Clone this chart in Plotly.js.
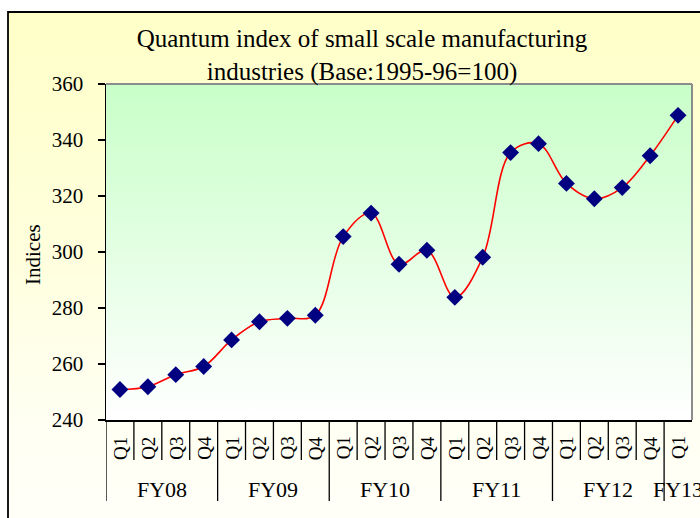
<!DOCTYPE html>
<html><head><meta charset="utf-8">
<script src="https://cdn.plot.ly/plotly-3.0.1.min.js"></script>
<style>html,body{margin:0;padding:0;background:#fff}#chart{width:700px;height:518px}</style>
</head><body><div id="chart"></div>
<script>
// ---- data ----
const quarters = ['Q1','Q2','Q3','Q4','Q1','Q2','Q3','Q4','Q1','Q2','Q3','Q4','Q1','Q2','Q3','Q4','Q1','Q2','Q3','Q4','Q1'];
const fiscalYears = ['FY08','FY09','FY10','FY11','FY12','FY13'];
const quartersPerYear = [4,4,4,4,4,1];
const indices = [250.9,251.9,256.2,259.1,268.6,275.1,276.3,277.4,305.5,313.9,295.6,300.6,283.8,298.1,335.5,338.7,324.5,319.0,323.0,334.4,348.8];
const chartTitle = 'Quantum index of small scale manufacturing<br>industries (Base:1995-96=100)';
const yTitle = 'Indices';
const yTicks = [240,260,280,300,320,340,360];

// ---- layout helpers ----
const W = 700, H = 518;
const px = v => v / W;          // pixel x -> paper
const py = v => 1 - v / H;      // pixel y -> paper
const FONT = 'Liberation Serif, Times New Roman, serif';
const xIdx = indices.map((_, i) => i);

const traces = [
  // outer chart-area gradient (yellow to near white)
  {x:[px(8),1.2,1.2,px(8),px(8)], y:[0,0,py(12),py(12),0], xaxis:'x', yaxis:'y',
   type:'scatter', mode:'lines', fill:'toself', line:{width:0,color:'rgba(0,0,0,0)'},
   fillgradient:{type:'vertical', colorscale:[[0,'#FFFFF8'],[0.2,'#FFFFF2'],[0.55,'#FFFFDC'],[1,'#FFFFC8']]},
   hoverinfo:'skip', showlegend:false},
  // plot-area gradient (green to white)
  {x:[-0.5,20.5,20.5,-0.5,-0.5], y:[240,240,360,360,240], xaxis:'x2', yaxis:'y2',
   type:'scatter', mode:'lines', fill:'toself', line:{width:0,color:'rgba(0,0,0,0)'},
   fillgradient:{type:'vertical', colorscale:[[0,'#FFFFFF'],[1,'#C8FFC8']]},
   hoverinfo:'skip', showlegend:false},
  // data
  {x:xIdx, y:indices, xaxis:'x2', yaxis:'y2', type:'scatter', mode:'lines+markers',
   line:{color:'#FF0000', width:1.6, shape:'spline', smoothing:1},
   marker:{symbol:'diamond', size:13, color:'#000080'}, showlegend:false}
];

const shapes = [
  // outer frame
  {type:'rect', xref:'paper', yref:'paper', x0:px(8), x1:1.2, y0:-0.2, y1:py(12),
   line:{color:'#000', width:1.8}, fillcolor:'rgba(0,0,0,0)', layer:'above'},
  // plot area grey border (top and right)
  {type:'line', xref:'x2 domain', yref:'y2 domain', x0:0, x1:1, y0:1, y1:1, line:{color:'#8C8C8C', width:2}, layer:'above'},
  {type:'line', xref:'x2 domain', yref:'y2 domain', x0:1, x1:1, y0:0, y1:1, line:{color:'#8C8C8C', width:2}, layer:'above'}
];
// category separators
const yearStarts = [];
let acc = 0;
quartersPerYear.forEach(n => { yearStarts.push(acc); acc += n; });
for (let k = 0; k < quarters.length; k++) {
  const isYear = yearStarts.includes(k);
  shapes.push({type:'line', xref:'x2', yref:'paper', x0:k-0.5, x1:k-0.5,
    y0:py(420), y1:py(isYear ? 501 : 460), line:{color:'#000', width:1.3}, layer:'above'});
}

const annotations = [];
quarters.forEach((q, i) => annotations.push({
  xref:'x2', yref:'paper', x:i, y:py(448), text:q, textangle:-90, showarrow:false,
  font:{family:FONT, size:19, color:'#000'}, xanchor:'center', yanchor:'middle'}));
fiscalYears.forEach((fy, j) => annotations.push({
  xref:'x2', yref:'paper', x:yearStarts[j] + (quartersPerYear[j]-1)/2, y:py(489), text:fy,
  showarrow:false, font:{family:FONT, size:22, color:'#000'}, xanchor:'center', yanchor:'middle'}));
annotations.push({xref:'paper', yref:'paper', x:px(33), y:py(255), text:yTitle, textangle:-90,
  showarrow:false, font:{family:FONT, size:21, color:'#000'}, xanchor:'center', yanchor:'middle'});

const layout = {
  width:W, height:H, margin:{l:0,r:0,t:0,b:0},
  paper_bgcolor:'#FFFFFF', plot_bgcolor:'rgba(0,0,0,0)',
  title:{text:chartTitle, x:px(362), xanchor:'center', y:py(47), yanchor:'middle',
         font:{family:FONT, size:25, color:'#000'}},
  xaxis:{domain:[0,1], range:[0,1], visible:false, fixedrange:true},
  yaxis:{domain:[0,1], range:[0,1], visible:false, fixedrange:true},
  xaxis2:{domain:[px(106), px(692)], anchor:'y2', range:[-0.5,20.5], showticklabels:false, ticks:'',
          showline:true, linecolor:'#000', linewidth:1.5, showgrid:false, zeroline:false, fixedrange:true},
  yaxis2:{domain:[py(420), py(84)], anchor:'x2', range:[240,360], tickvals:yTicks, ticks:'outside',
          ticklen:7, tickcolor:'#000', tickwidth:1.3, showline:true, linecolor:'#000', linewidth:1.5,
          showgrid:false, zeroline:false, ticklabelstandoff:10,
          tickfont:{family:FONT, size:21, color:'#000'}, fixedrange:true},
  shapes:shapes, annotations:annotations, showlegend:false
};
Plotly.newPlot('chart', traces, layout, {displayModeBar:false, staticPlot:true});
</script></body></html>
